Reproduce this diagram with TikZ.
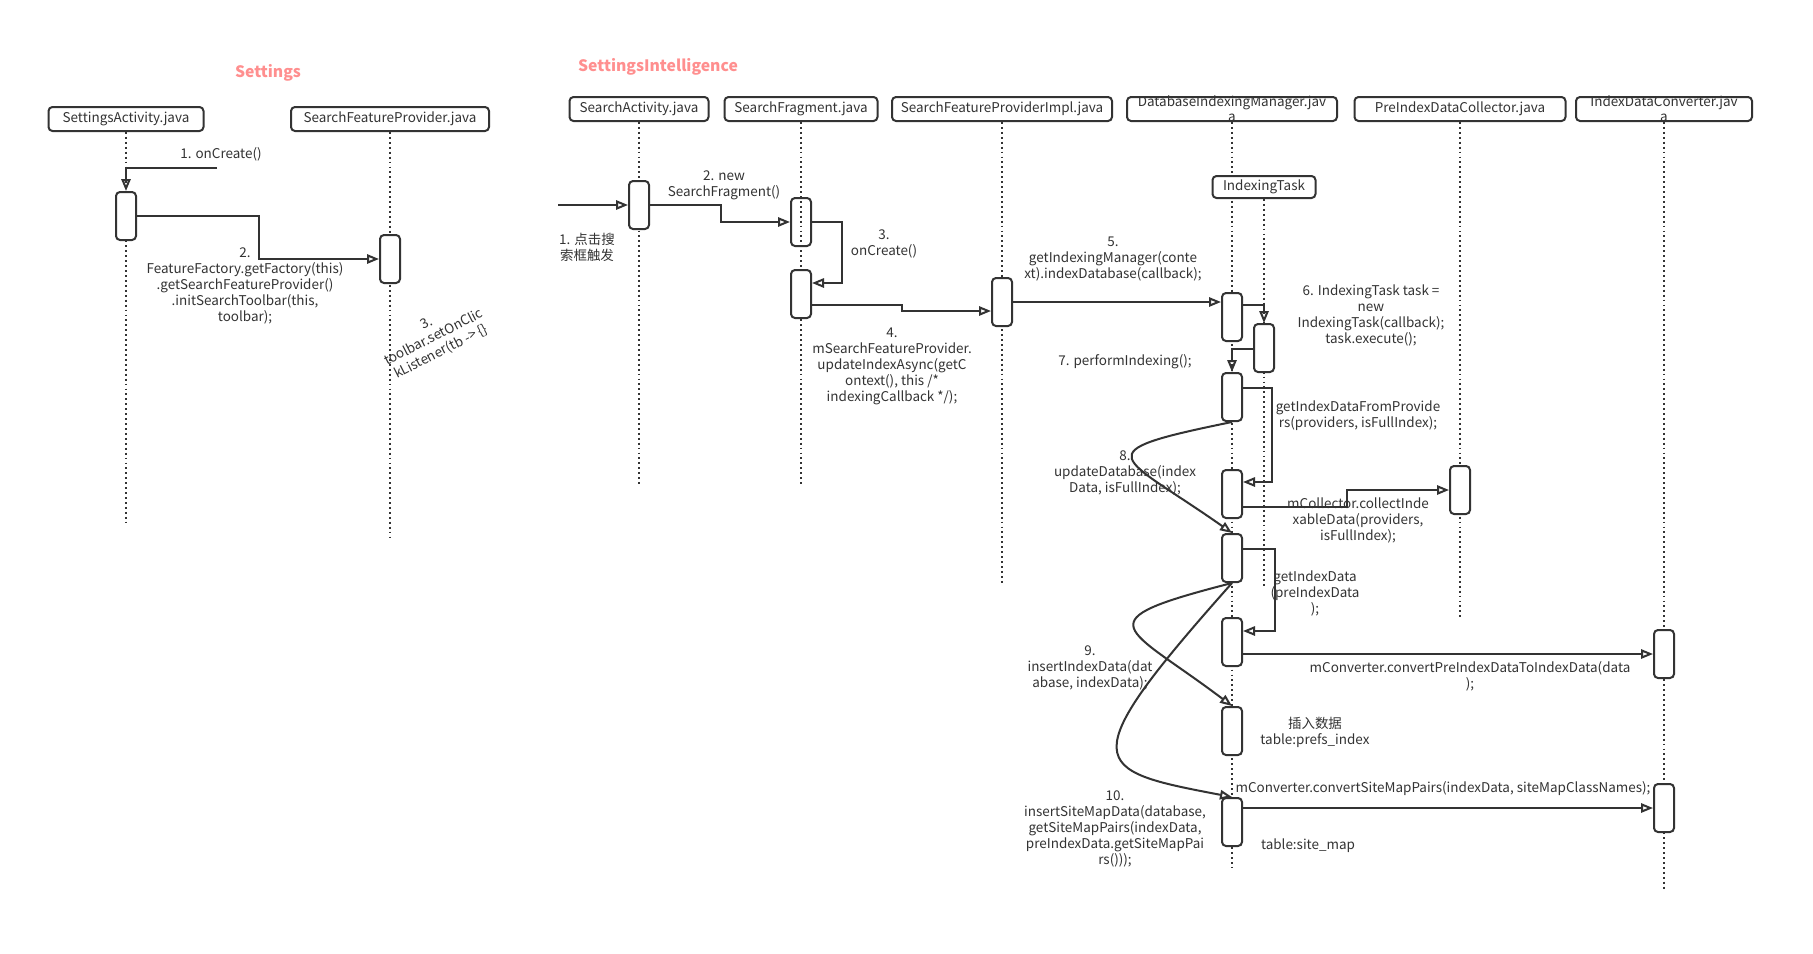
\documentclass[tikz,border=0pt]{standalone}
\usepackage{fontspec}
\setmainfont{Noto Sans CJK SC}
\usepackage{tikz}
\definecolor{ink}{RGB}{51,51,51}
\definecolor{titlepink}{RGB}{255,143,143}
\tikzset{
  block_font/.style = {font=\fontsize{10.1}{12}\selectfont},
  head_font/.style = {font=\fontsize{10.1}{11.3}\selectfont},
  title_font/.style = {font=\fontsize{11.8}{13}\selectfont\bfseries},
  line_ink/.style = {draw=ink, line width=1.5pt}
}
\tikzset{
  head/.style = {block_font, line_ink, rounded corners=3pt, fill=white, text=ink,
    minimum width=#1*0.75pt, minimum height=18pt, inner sep=0pt},
  act/.style = {line_ink, rounded corners=3pt, fill=white,
    minimum width=15pt, minimum height=36pt, inner sep=0pt},
  life/.style = {draw=ink, line width=1.4pt, dash pattern=on 1.4pt off 2.3pt},
  msg/.style = {line_ink, -{Triangle[open, length=9pt, width=7pt]}},
  lbl/.style = {block_font, text=ink, align=center, inner sep=0pt},
  ttl/.style = {title_font, text=titlepink, inner sep=0pt}
}
\usetikzlibrary{arrows.meta, calc, positioning}

\begin{document}
\begin{tikzpicture}[x=0.75pt, y=-0.75pt]
        \fill[white] (0,0) rectangle (1813,953);
        \useasboundingbox (0,0) rectangle (1813,953);

        % Titles
        \node[ttl] at (268,73) (settings_t) {Settings};
        \node[ttl] at (658,67) (intel_t) {SettingsIntelligence};

        % Actors
        \node[head=155] at (126,119) (sa_h) {SettingsActivity.java};
        \node[head=198] at (390,119) (sfp_h) {SearchFeatureProvider.java};
        \node[head=139] at (639,109) (srch_h) {SearchActivity.java};
        \node[head=153] at (801,109) (frag_h) {SearchFragment.java};
        \node[head=220] at (1002,109) (impl_h) {SearchFeatureProviderImpl.java};
        \node[head=210] at (1232,109) (dim_h) {};
        \node[head=211] at (1460,109) (coll_h) {PreIndexDataCollector.java};
        \node[head=176] at (1664,109) (conv_h) {};
        \node[lbl, head_font] at (dim_h) (dim_t) {
            DatabaseIndexingManager.jav\\a};
        \node[lbl, head_font] at (conv_h) (conv_t) {
            IndexDataConverter.jav\\a};

        % Lifelines
        \foreach \who/\len in {sa_h/391, sfp_h/407, srch_h/362, frag_h/362,
                               impl_h/462, dim_h/746, coll_h/497, conv_h/767}
            \draw[life] (\who.south) -- ++(0,\len);

        \node[head=103, minimum height=16.5pt] at (1264,187) (task_h) {IndexingTask};
        \draw[life] (task_h.south) -- ++(0,387);

        % Activations
        \node[act] at (126,216) (sa_a) {};
        \node[act] at (390,259) (sfp_a) {};
        \node[act] at (639,205) (srch_a) {};
        \node[act, fill=none] at (801,222) (frag_a1) {};
        \node[act] at (801,294) (frag_a2) {};
        \node[act] at (1002,302) (impl_a) {};
        \node[act] at (1232,317) (dim_a1) {};
        \node[act] at (1264,348) (task_a) {};
        \node[act] at (1232,397) (dim_a2) {};
        \node[act] at (1232,494) (dim_a3) {};
        \node[act] at (1460,490) (coll_a) {};
        \node[act] at (1232,558) (dim_a4) {};
        \node[act] at (1232,642) (dim_a5) {};
        \node[act] at (1232,731) (dim_a6) {};
        \node[act] at (1232,822) (dim_a7) {};
        \node[act] at (1664,654) (conv_a1) {};
        \node[act] at (1664,808) (conv_a2) {};

        \coordinate (sa_in) at (217,168);
        \coordinate (srch_in) at (558,205);

        % Arrows and lines
        \draw[msg] (sa_in) -| (sa_a.north);
        \draw[msg] (sa_a.east) -- ++(122,0) |- (sfp_a.west);
        \draw[msg] (srch_in) -- (srch_a.west);
        \draw[msg] (srch_a.east) -- ++(71,0) |- (frag_a1.west);
        \draw[msg] (frag_a1.east) -- ++(30,0) |- ($(frag_a2.east)+(0,-11)$);
        \draw[msg] ($(frag_a2.east)+(0,11)$) -- ++(90,0) |- ($(impl_a.west)+(0,9)$);
        \draw[msg] (impl_a.east) -- (impl_a.east -| dim_a1.west);
        \draw[msg] ($(dim_a1.east)+(0,-12)$) -| (task_a.north);
        \draw[msg] ($(task_a.west)+(0,1)$) -| (dim_a2.north);
        \draw[msg] ($(dim_a2.east)+(0,-9)$) -- ++(29,0) |- ($(dim_a3.east)+(0,-12)$);
        \draw[msg] ($(dim_a3.east)+(0,13)$) -- ++(104,0) |- (coll_a.west);
        \draw[msg] (dim_a2.south) .. controls (1080,453) and (1120,454) .. (dim_a4.north);
        \draw[msg] ($(dim_a4.east)+(0,-9)$) -- ++(32,0) |- ($(dim_a5.east)+(0,-11)$);
        \draw[msg] (dim_a5.east |- conv_a1.west) -- (conv_a1.west);
        \draw[msg] (dim_a4.south) .. controls (1080,622) and (1125,625) .. (dim_a6.north);
        \draw[msg] (dim_a4.south) .. controls (1070,765) and (1090,770) .. (dim_a7.north);
        \draw[msg] (dim_a7.east |- conv_a2.west) -- (conv_a2.west);

        % Labels
        \node[lbl] at (221,154) (m1s) {1. onCreate()};
        \node[lbl] at (245,286) (m2s) {
            2.\\FeatureFactory.getFactory(this)\\.getSearchFeatureProvider()\\
            .initSearchToolbar(this,\\toolbar);};
        \node[lbl, rotate=27] at (434,338) (m3s) {
            3.\\toolbar.setOnClic\\kListener(tb -> \{\}};
        \node[lbl] at (587,247) (m1) {1. 点击搜\\索框触发};
        \node[lbl] at (724,185) (m2) {2. new\\SearchFragment()};
        \node[lbl] at (884,244) (m3) {3.\\onCreate()};
        \node[lbl] at (892,366) (m4) {
            4.\\mSearchFeatureProvider.\\updateIndexAsync(getC\\
            ontext(), this /*\\indexingCallback */);};
        \node[lbl] at (1113,259) (m5) {
            5.\\getIndexingManager(conte\\xt).indexDatabase(callback);};
        \node[lbl] at (1371,315) (m6) {
            6. IndexingTask task =\\new\\IndexingTask(callback);\\task.execute();};
        \node[lbl] at (1125,362) (m7) {7. performIndexing();};
        \node[lbl] at (1358,416) (m_prov) {
            getIndexDataFromProvide\\rs(providers, isFullIndex);};
        \node[lbl] at (1125,473) (m8) {
            8.\\updateDatabase(index\\Data, isFullIndex);};
        \node[lbl] at (1358,520) (m_coll) {
            mCollector.collectInde\\xableData(providers,\\isFullIndex);};
        \node[lbl] at (1315,593) (m_data) {getIndexData\\(preIndexData\\);};
        \node[lbl] at (1090,668) (m9) {
            9.\\insertIndexData(dat\\abase, indexData);};
        \node[lbl] at (1470,676) (m_pre) {
            mConverter.convertPreIndexDataToIndexData(data\\);};
        \node[lbl] at (1315,732) (m_prefs) {插入数据\\table:prefs\_index};
        \node[lbl] at (1443,789) (m_pairs) {
            mConverter.convertSiteMapPairs(indexData, siteMapClassNames);};
        \node[lbl] at (1115,829) (m10) {
            10.\\insertSiteMapData(database,\\getSiteMapPairs(indexData,\\
            preIndexData.getSiteMapPai\\rs()));};
        \node[lbl] at (1308,846) (m_site) {table:site\_map};
\end{tikzpicture}
\end{document}
